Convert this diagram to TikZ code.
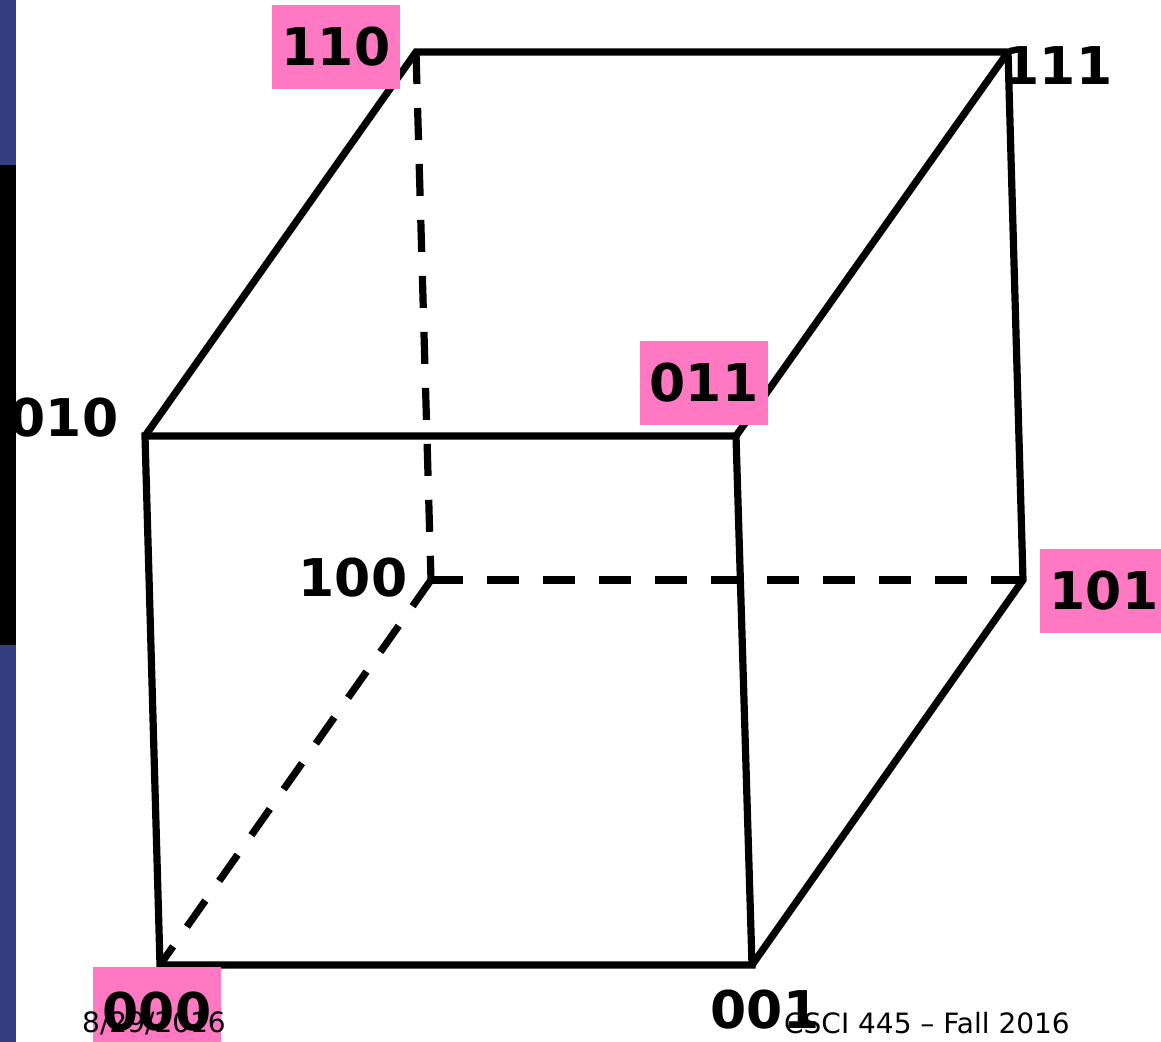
\documentclass[tikz,border=0pt]{standalone}
\usepackage{fontspec}
\setmainfont{DejaVu Sans}
\definecolor{cubepink}{HTML}{FF78C2}
\definecolor{barblue}{HTML}{333F80}
\tikzset{
  edge/.style={line width=3.6pt},
  hidden/.style={line width=3.6pt, dash pattern=on 16pt off 12pt},
  vlabel/.style={font=\fontsize{26}{28}\selectfont\bfseries, inner sep=0pt},
  pinklabel/.style={vlabel, fill=cubepink, minimum width=64pt, minimum height=42pt},
  footer/.style={font=\fontsize{14}{16}\selectfont, inner sep=0pt}
}
\begin{document}
\begin{tikzpicture}[x=0.5pt, y=-0.5pt]
\useasboundingbox (0,0) rectangle (1161,1042);
\clip (0,0) rectangle (1161,1042);

% side bar
\fill[barblue] (0,0) rectangle (16,1042);
\fill[black] (0,165) rectangle (16,645);

% corners of the cube
\coordinate (c110) at (416,52);
\coordinate (c111) at (1008,52);
\coordinate (c010) at (145,436);
\coordinate (c011) at (736,436);
\coordinate (c100) at (431,580);
\coordinate (c101) at (1023,580);
\coordinate (c000) at (160,965);
\coordinate (c001) at (752,965);

% hidden edges
\draw[hidden] (c110) -- (c100);
\draw[hidden] (c100) -- (c101);
\draw[hidden] (c100) -- (c000);

% visible edges
\draw[edge] (c010) -- (c011) -- (c001) -- (c000) -- cycle;
\draw[edge] (c010) -- (c110) -- (c111) -- (c011);
\draw[edge] (c111) -- (c101) -- (c001);

% labels
\node[pinklabel] (l110) at (336,47) {110};
\node[vlabel] (l111) at (1058,66) {111};
\node[vlabel] (l010) at (64,418) {010};
\node[pinklabel] (l011) at (704,383) {011};
\node[vlabel] (l100) at (353,578) {100};
\node[pinklabel] (l101) at (1104,591) {101};
\node[pinklabel] (l000) at (157,1009) {};

% footer
\node[footer] (date) at (154,1023) {8/29/2016};
\node[footer] (course) at (927,1023) {CSCI 445 – Fall 2016};

\node[vlabel] (t000) at (157,1012) {000};
\node[vlabel] (l001) at (765,1010) {001};
\end{tikzpicture}
\end{document}
